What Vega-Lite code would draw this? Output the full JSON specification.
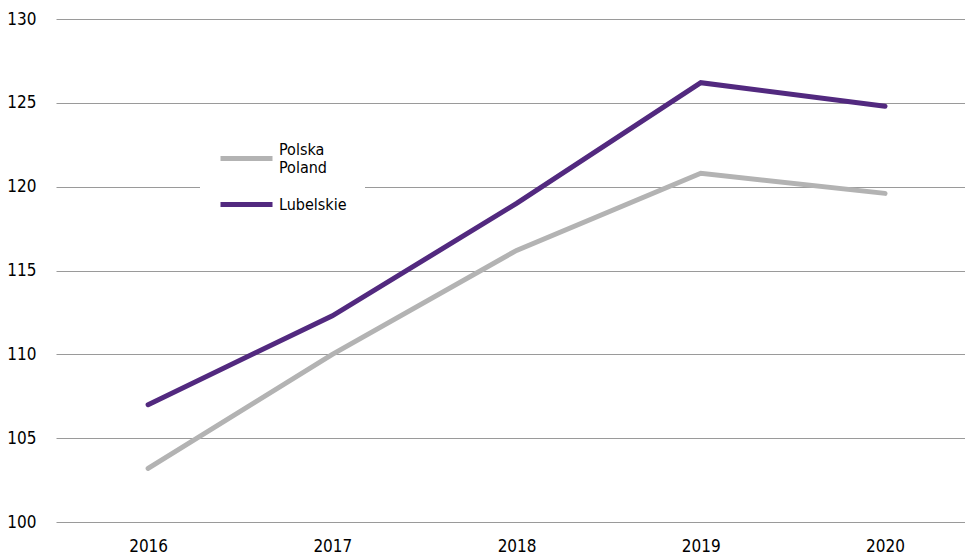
{
  "$schema": "https://vega.github.io/schema/vega-lite/v6.json",
  "width": 909,
  "height": 503,
  "autosize": {"type": "none"},
  "padding": {"left": 56, "top": 19, "right": 0, "bottom": 38},
  "background": "white",
  "config": {
    "view": {"stroke": null},
    "font": "DejaVu Sans Condensed, sans-serif"
  },
  "data": {
    "values": [
      {"year": 2016, "series": "Polska", "value": 103.2},
      {"year": 2017, "series": "Polska", "value": 110.0},
      {"year": 2018, "series": "Polska", "value": 116.2},
      {"year": 2019, "series": "Polska", "value": 120.8},
      {"year": 2020, "series": "Polska", "value": 119.6},
      {"year": 2016, "series": "Lubelskie", "value": 107.0},
      {"year": 2017, "series": "Lubelskie", "value": 112.3},
      {"year": 2018, "series": "Lubelskie", "value": 119.0},
      {"year": 2019, "series": "Lubelskie", "value": 126.2},
      {"year": 2020, "series": "Lubelskie", "value": 124.8}
    ]
  },
  "mark": {"type": "line", "strokeWidth": 5, "strokeCap": "round", "strokeJoin": "miter"},
  "encoding": {
    "x": {
      "field": "year",
      "type": "quantitative",
      "scale": {"domain": [2015.5, 2020.434], "nice": false, "zero": false},
      "axis": {
        "title": null,
        "values": [2016, 2017, 2018, 2019, 2020],
        "format": "d",
        "grid": false,
        "domain": false,
        "ticks": false,
        "labelFontSize": 17,
        "labelColor": "#000000",
        "labelPadding": 16,
        "labelFlush": false
      }
    },
    "y": {
      "field": "value",
      "type": "quantitative",
      "scale": {"domain": [100, 130], "nice": false, "zero": false},
      "axis": {
        "title": null,
        "values": [100, 105, 110, 115, 120, 125, 130],
        "grid": true,
        "gridColor": "#9a9a9a",
        "gridWidth": 1,
        "gridOpacity": 1,
        "domain": false,
        "ticks": false,
        "labelFontSize": 17,
        "labelColor": "#000000",
        "labelPadding": 20
      }
    },
    "color": {
      "field": "series",
      "type": "nominal",
      "scale": {"domain": ["Polska", "Lubelskie"], "range": ["#b3b3b3", "#52297f"]},
      "legend": {
        "title": null,
        "orient": "none",
        "legendX": 144,
        "legendY": 93,
        "fillColor": "white",
        "padding": 18,
        "symbolType": "stroke",
        "symbolSize": 2704,
        "symbolStrokeWidth": 5,
        "labelFontSize": 16,
        "labelColor": "#000000",
        "labelOffset": 4,
        "rowPadding": -3,
        "labelExpr": "datum.label == 'Polska' ? ['Polska', 'Poland'] : datum.label",
        "encode": {
          "labels": {
            "update": {
              "lineHeight": {"value": 18},
              "dy": {"signal": "datum.label == 'Polska' ? -9 : 0"}
            }
          }
        }
      }
    }
  }
}
